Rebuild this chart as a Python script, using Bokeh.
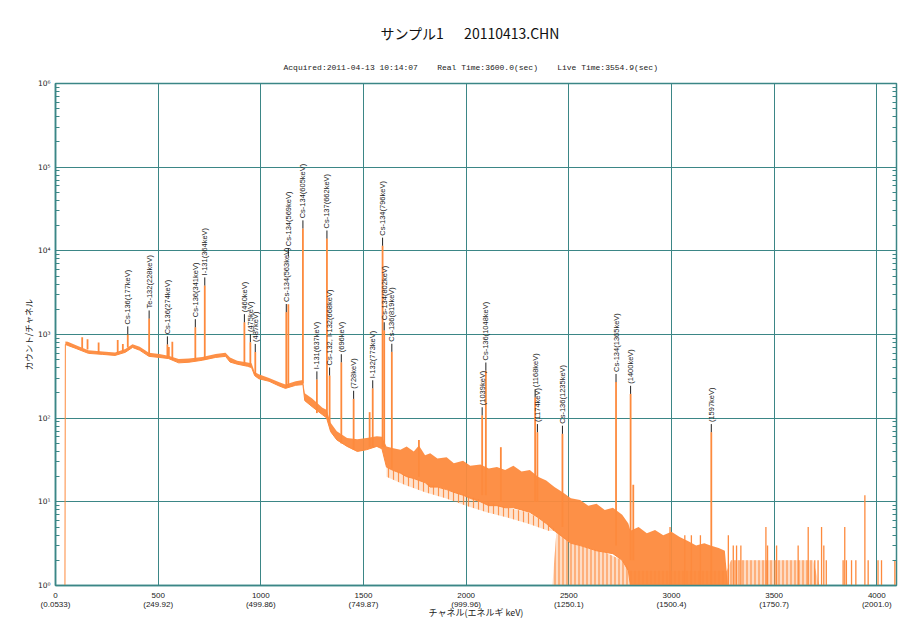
import numpy as np
from bokeh.plotting import figure
from bokeh.models import FixedTicker, LogAxis, Title, ColumnDataSource, CustomJSTickFormatter
from bokeh.core.properties import value
from bokeh.embed import file_html
from bokeh.resources import INLINE

# ---------------- texts ----------------
NB = "\u00a0"
TITLE = "サンプル1　" + NB * 2 + "20110413.CHN"
SUBTITLE = ("Acquired:2011-04-13 10:14:07" + NB * 4 + "Real Time:3600.0(sec)" + NB * 4
            + "Live Time:3554.9(sec)")
X_LABEL = "チャネル(エネルギ keV)"
Y_LABEL = "カウント/チャネル"

# ---------------- axes ----------------
x_ticks = [0, 500, 1000, 1500, 2000, 2500, 3000, 3500, 4000]
x_energy = ["0.0533", "249.92", "499.86", "749.87", "999.96", "1250.1", "1500.4", "1750.7", "2001.0"]
y_ticks = [1, 10, 100, 1000, 10000, 100000, 1000000]
y_tick_labels = ["10⁰", "10¹", "10²", "10³", "10⁴", "10⁵", "10⁶"]

# ---------------- continuum band (channel, lower / upper envelope of counts) ----------------
cont_ch = [0, 46, 48, 60, 100, 160, 230, 290, 340, 375, 410, 455, 505, 550, 600, 650, 715, 780,
           828, 850, 885, 935, 955, 970, 990, 1040, 1090, 1120, 1170, 1205, 1214, 1250, 1300,
           1320, 1340, 1370, 1420, 1470, 1515, 1565, 1590, 1612, 1640, 1680, 1710, 1745, 1770,
           1800, 1825, 1860, 1905, 1940, 1985, 2020, 2070, 2110, 2150, 2190, 2230, 2270, 2310,
           2350, 2390, 2430, 2470, 2510, 2555, 2595, 2635, 2675, 2715, 2760, 2790, 2800, 2840,
           2880, 2920, 2960, 3000, 3040, 3080, 3120, 3160, 3190, 3230, 3260, 3275, 4096]
cont_lo = [1, 1, 760, 740, 680, 595, 578, 562, 612, 700, 648, 548, 532, 516, 458, 466, 492, 532,
           548, 468, 442, 417, 402, 322, 296, 276, 242, 227, 247, 252, 162, 137, 110,
           101, 69, 55, 46, 40, 42, 46, 43, 26, 24, 22, 20, 19, 18,
           17, 15, 15, 14, 13, 12, 11, 10, 9, 9, 8.5, 8.5, 8, 7.5,
           6.5, 5.5, 4.5, 3.8, 3.2, 3, 2.8, 2.6, 2.5, 2.4, 2, 1.5, 1, 1,
           1, 1, 1, 1, 1, 1, 1, 1, 1, 1, 1, 1, 1]
cont_hi = [1, 1, 825, 820, 745, 650, 628, 608, 672, 765, 712, 605, 585, 556, 510, 516, 540, 585,
           605, 530, 486, 462, 452, 356, 336, 302, 268, 252, 276, 286, 198, 172, 133,
           126, 88, 70, 58, 56, 58, 61, 60, 46, 44, 42, 46, 40, 47,
           36, 38, 33, 34, 29, 31, 27, 28, 25, 26, 24, 27, 23, 24,
           20, 18, 15, 13, 11, 10.5, 9, 9.5, 8, 8.5, 7, 5.5, 4.5, 5,
           4.2, 4.6, 4, 4.4, 3.8, 3.4, 3, 3.2, 3, 2.8, 2.6, 1, 1]

# downward noise below the band (1600-2450 channels)
noise_ch = [1612, 1700, 1800, 1900, 2000, 2100, 2200, 2300, 2400, 2440]
noise_lo = [20, 16, 13, 11, 9, 7.5, 6.5, 5.5, 4.5, 4.5]
noise_hi = [26, 21, 17, 14, 12, 10, 8.5, 7.5, 5.5, 4.5]

# sparse zero-dropping regions (drawn lighter, from the bottom up)
light_ch = [2420, 2440, 2510, 2595, 2675, 2760, 2800, 3270, 3290, 3480, 3690, 3720]
light_hi = [1, 4.5, 3.2, 2.8, 2.5, 2, 1.5, 1.5, 2, 2, 2, 1]

# isolated noise spikes from zero counts
spike_ch = [2993, 3065, 3097, 3141, 3277, 3301, 3317, 3338, 3460, 3468, 3512, 3617, 3666, 3698,
            3714, 3731, 3742, 3754, 3836, 3844, 3852, 3877, 3898, 3942, 3958, 4006, 4023, 4088]
spike_ct = [5, 4, 4, 4, 4, 3, 3, 3, 5, 3, 3, 3, 5, 2,
            2, 5, 3, 2, 2, 5, 2, 2, 2, 12, 2, 2, 2, 2]

# photopeaks (channel, continuum base, top count)
peak_ch = [130, 156, 210, 303, 328, 352, 456, 545, 552, 569, 681, 727, 920, 949, 973, 1124, 1134,
           1205, 1273, 1322, 1335, 1392, 1452, 1530, 1545, 1593, 1601, 1638, 1770, 2078, 2096, 2169,
           2336, 2347, 2469, 2730, 2801, 2814, 3194]
peak_base = [690, 660, 600, 600, 620, 700, 560, 520, 520, 500, 490, 495, 420, 410, 330, 230, 235,
             260, 115, 100, 85, 50, 42, 45, 45, 45, 45, 25, 20, 12, 12, 10,
             10, 10, 5, 3, 2, 2, 1]
peak_top = [930, 880, 800, 860, 770, 1000, 1550, 760, 710, 820, 1220, 3850, 1400, 810, 617, 1850, 2300,
            18500, 290, 14000, 323, 465, 170, 118, 227, 11500, 1120, 620, 55, 108, 370, 45,
            177, 68, 65, 270, 195, 16, 68]

# peak identification labels
label_ch = [352, 456, 545, 681, 727, 920, 949, 973, 1124, 1134, 1205, 1273, 1322, 1335, 1392, 1452,
            1545, 1593, 1601, 1638, 2078, 2096, 2336, 2347, 2469, 2730, 2801, 3194]
label_top = [1000, 1550, 760, 1220, 3850, 1400, 810, 617, 1850, 8600, 18500, 290, 14000, 323, 465, 170,
             227, 11500, 1120, 620, 108, 370, 177, 68, 65, 270, 195, 68]
label_text = ["Cs-136(177keV)", "Te-132(228keV)", "Cs-136(274keV)", "Cs-136(341keV)", "I-131(364keV)",
              "(460keV)", "(475keV)", "(487keV)", "Cs-134(563keV)", "Cs-134(569keV)", "Cs-134(605keV)",
              "I-131(637keV)", "Cs-137(662keV)", "Cs-132, I-132(668keV)", "(696keV)", "(728keV)",
              "I-132(773keV)", "Cs-134(796keV)", "Cs-134(802keV)", "Cs-136(819keV)", "(1039keV)",
              "Cs-136(1048keV)", "(1168keV)", "(1174keV)", "Cs-136(1235keV)", "Cs-134(1365keV)",
              "(1400keV)", "(1597keV)"]

# ---------------- styling ----------------
ORANGE = "#fd8a3d"
TEAL = "#3b8686"
JP = "Noto Sans CJK JP"

p = figure(width=901, height=625, x_range=(0, 4096), y_range=(1, 1e6), y_axis_type="log",
           output_backend="svg", toolbar_location=None,
           min_border_left=55, min_border_right=5, min_border_top=83, min_border_bottom=40)

p.background_fill_color = "white"
p.border_fill_color = "white"
p.outline_line_color = TEAL
p.outline_line_width = 1.5

p.title.text = TITLE
p.title.text_font = JP
p.title.text_font_size = "14px"
p.title.text_font_style = "normal"
p.title.text_color = "#111111"
p.title.align = "left"
p.title.offset = 325
p.title.standoff = 11

sub = Title(text=SUBTITLE, text_font="Liberation Mono", text_font_size="8px",
            text_font_style="normal", text_color="#222222", align="left", offset=228, standoff=24)
p.add_layout(sub, "above")

# grids
p.xgrid.ticker = FixedTicker(ticks=x_ticks)
p.ygrid.ticker = FixedTicker(ticks=y_ticks)
p.xgrid.grid_line_color = TEAL
p.ygrid.grid_line_color = TEAL
p.xgrid.grid_line_width = 1
p.ygrid.grid_line_width = 1

# x axis
xa = p.xaxis[0]
xa.ticker = FixedTicker(ticks=x_ticks)
xa.major_label_overrides = {t: f"{t}\n({e})" for t, e in zip(x_ticks, x_energy)}
xa.major_label_text_font = "Liberation Sans"
xa.major_label_text_font_size = "8px"
xa.major_label_text_line_height = 1.0
xa.major_label_text_color = "#222222"
xa.major_label_standoff = 5
xa.major_tick_in = 0
xa.major_tick_out = 0
xa.minor_tick_line_color = None
xa.axis_line_color = TEAL
xa.axis_line_width = 1.5
xa.axis_label = X_LABEL
xa.axis_label_text_font = JP
xa.axis_label_text_font_size = "9px"
xa.axis_label_text_font_style = "normal"
xa.axis_label_text_color = "#222222"
xa.axis_label_standoff = -6

minor_y = [m * 10 ** d for d in range(6) for m in range(2, 10)]

ya = p.yaxis[0]
ya.ticker = FixedTicker(ticks=y_ticks, minor_ticks=minor_y)
ya.major_label_overrides = {t: s for t, s in zip(y_ticks, y_tick_labels)}
ya.major_label_text_font = "DejaVu Sans"
ya.major_label_text_font_size = "7.5px"
ya.major_label_text_color = "#222222"
ya.major_label_standoff = 5
ya.major_tick_in = 0
ya.major_tick_out = 0
ya.minor_tick_in = 4
ya.minor_tick_out = 0
ya.minor_tick_line_color = TEAL
ya.axis_line_color = TEAL
ya.axis_line_width = 1.5
ya.axis_label = Y_LABEL
ya.axis_label_text_font = JP
ya.axis_label_text_font_size = "8.5px"
ya.axis_label_text_font_style = "normal"
ya.axis_label_text_color = "#222222"
ya.axis_label_standoff = 1

ra = LogAxis(ticker=FixedTicker(ticks=y_ticks, minor_ticks=minor_y),
             formatter=CustomJSTickFormatter(code="return ''"))
ra.major_tick_in = 0
ra.major_tick_out = 0
ra.minor_tick_in = 4
ra.minor_tick_out = 0
ra.minor_tick_line_color = TEAL
ra.axis_line_color = TEAL
ra.major_label_standoff = 0
p.add_layout(ra, "right")

# spectrum
p.varea(x=light_ch, y1=[1] * len(light_ch), y2=light_hi, fill_color=ORANGE, fill_alpha=0.3,
        hatch_pattern="vertical_line", hatch_color=ORANGE, hatch_scale=4, hatch_weight=1.2,
        hatch_alpha=0.9)
p.varea(x=noise_ch, y1=noise_lo, y2=noise_hi, fill_color=ORANGE, fill_alpha=0.25,
        hatch_pattern="vertical_line", hatch_color=ORANGE, hatch_scale=5, hatch_weight=1.2,
        hatch_alpha=0.9)
p.varea(x=cont_ch, y1=cont_lo, y2=cont_hi, fill_color=ORANGE, fill_alpha=0.95)
p.line(x=cont_ch, y=cont_lo, line_color=ORANGE, line_width=1.0)
p.segment(x0=spike_ch, y0=[1] * len(spike_ch), x1=spike_ch, y1=spike_ct,
          line_color=ORANGE, line_width=1.3)
p.segment(x0=peak_ch, y0=peak_base, x1=peak_ch, y1=peak_top, line_color=ORANGE, line_width=1.8)

# labels
lab_end = [t * 1.25 for t in label_top]
p.segment(x0=label_ch, y0=label_top, x1=label_ch, y1=lab_end, line_color="#222222", line_width=1)
lsrc = ColumnDataSource(dict(x=label_ch, y=lab_end, t=label_text))
p.text(x="x", y="y", text="t", source=lsrc, angle=np.pi / 2, text_align="left",
       text_baseline="middle", text_font=value("Liberation Sans"), text_font_size="7.5px",
       text_color="#222222", y_offset=-2)

open("out.html", "w").write(file_html(p, INLINE))
